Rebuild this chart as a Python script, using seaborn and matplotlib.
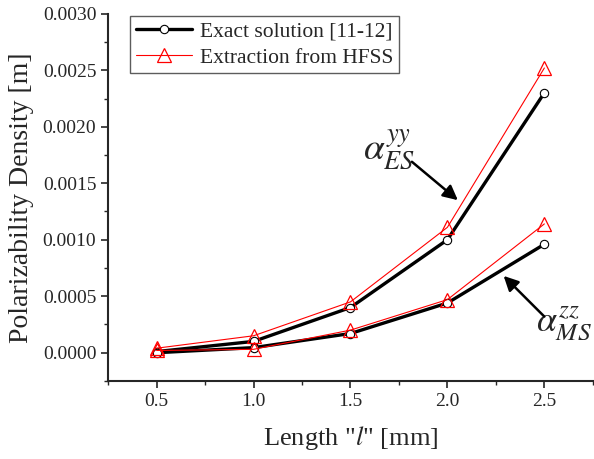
import numpy as np
import pandas as pd
import seaborn as sns
import matplotlib.pyplot as plt
from matplotlib.ticker import MultipleLocator, FormatStrFormatter

# lengths in mm
length = [0.5, 1.0, 1.5, 2.0, 2.5]

# electric polarizability alpha_ES^yy
es_exact = [0.00001, 0.00010, 0.00040, 0.00100, 0.00230]
es_hfss = [0.00004, 0.00015, 0.00045, 0.00111, 0.00252]

# magnetic polarizability alpha_MS^zz
ms_exact = [0.00000, 0.000045, 0.00017, 0.00044, 0.00096]
ms_hfss = [0.00002, 0.00003, 0.00020, 0.00047, 0.00114]

sns.set_style("ticks")
plt.rcParams['font.family'] = ['Liberation Serif', 'DejaVu Serif']
plt.rcParams['mathtext.fontset'] = 'stix'

fig = plt.figure(figsize=(5.94, 4.59), dpi=100)
ax = fig.add_axes([0.182, 0.170, 0.816, 0.8])

black = dict(color='black', linewidth=2.4, marker='o', markersize=6,
             markerfacecolor='white', markeredgecolor='black', markeredgewidth=0.8)
red = dict(color='red', linewidth=0.8, marker='^', markersize=10,
           markerfacecolor='none', markeredgecolor='red', markeredgewidth=0.9)

sns.lineplot(x=length, y=es_exact, ax=ax, label='Exact solution [11-12]', **black)
sns.lineplot(x=length, y=ms_exact, ax=ax, legend=False, **black)
sns.lineplot(x=length, y=es_hfss, ax=ax, label='Extraction from HFSS', **red)
sns.lineplot(x=length, y=ms_hfss, ax=ax, legend=False, **red)

ax.set_xlim(0.25, 2.75)
ax.set_ylim(-0.00025, 0.0030)
ax.xaxis.set_major_locator(MultipleLocator(0.5))
ax.xaxis.set_minor_locator(MultipleLocator(0.25))
ax.yaxis.set_major_locator(MultipleLocator(0.0005))
ax.yaxis.set_minor_locator(MultipleLocator(0.00025))
ax.yaxis.set_major_formatter(FormatStrFormatter('%.4f'))
ax.xaxis.set_major_formatter(FormatStrFormatter('%.1f'))
ax.tick_params(axis='both', which='major', direction='out', length=5, width=1.2, labelsize=14)
ax.tick_params(axis='both', which='minor', direction='out', length=3, width=1.0)
sns.despine(ax=ax)
for s in ['left', 'bottom']:
    ax.spines[s].set_linewidth(1.5)

ax.set_xlabel('Length "$\\mathit{l}$" [mm]', fontsize=19, labelpad=10)
ax.set_ylabel('Polarizability Density [m]', fontsize=20, labelpad=6)

leg = ax.legend(loc='upper left', bbox_to_anchor=(0.046, 0.995), fontsize=15.5,
                frameon=True, fancybox=False, edgecolor='#333333',
                handlelength=2.6, handletextpad=0.4, borderpad=0.25,
                labelspacing=0.3, borderaxespad=0.0)
leg.get_frame().set_linewidth(1.0)

ax.text(1.70, 0.00180, r'$\alpha_{ES}^{yy}$', fontsize=27, ha='center', va='center')
ax.annotate('', xy=(2.054, 0.00135), xytext=(1.817, 0.00169),
            arrowprops=dict(arrowstyle='-|>', color='black', lw=1.8, mutation_scale=22,
                            shrinkA=0, shrinkB=0))
ax.text(2.60, 0.00026, r'$\alpha_{MS}^{zz}$', fontsize=26, ha='center', va='center')
ax.annotate('', xy=(2.29, 0.00068), xytext=(2.50, 0.00032),
            arrowprops=dict(arrowstyle='-|>', color='black', lw=1.8, mutation_scale=22,
                            shrinkA=0, shrinkB=0))

fig.savefig('out.png', dpi=100)
